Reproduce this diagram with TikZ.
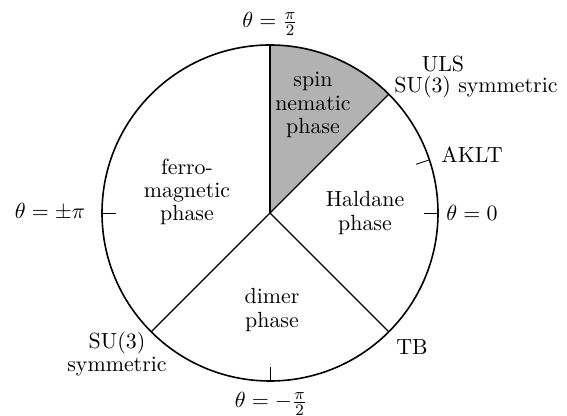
\documentclass[tikz,border=0pt]{standalone}
\usetikzlibrary{calc}
\begin{document}
\begin{tikzpicture}[x=0.5pt,y=-0.5pt,
  rim/.style={line width=0.8pt},
  spoke/.style={line width=0.55pt},
  tickmark/.style={line width=0.4pt},
  lbl/.style={align=center,inner sep=1pt,font=\fontsize{10.95}{11.6}\selectfont}]
\useasboundingbox (0,0) rectangle (567,416);
\coordinate (c) at (270,213);
\coordinate (p90) at ($(c)+(90:84pt)$);
\coordinate (p45) at ($(c)+(45:84pt)$);
\coordinate (m45) at ($(c)+(-45:84pt)$);
\coordinate (m135) at ($(c)+(-135:84pt)$);
\fill[black!30] (c) -- (p90) arc (90:45:84pt) -- cycle;
\draw[rim] (c) circle (84pt);
\draw[spoke] (c) -- (p90);
\draw[spoke] (c) -- (p45);
\draw[spoke] (c) -- (m45);
\draw[spoke] (c) -- (m135);
\foreach \a/\n in {0/t0,180/t180,-90/tm90,18.435/takl}{
  \coordinate (\n o) at ($(c)+(\a:84pt)$);
  \coordinate (\n i) at ($(c)+(\a:77pt)$);
  \draw[tickmark] (\n o) -- (\n i);
}
\node[lbl] (top) at (270,24) {$\theta=\frac{\pi}{2}$};
\node[lbl] (bot) at (271,404) {$\theta=-\frac{\pi}{2}$};
\node[lbl] (zero) at (472,213) {$\theta=0$};
\node[lbl] (pipm) at (50,212) {$\theta=\pm\pi$};
\node[lbl] (uls) at (443,64) {ULS};
\node[lbl] (su3a) at (476,87) {SU(3) symmetric};
\node[lbl] (aklt) at (472,155) {AKLT};
\node[lbl] (tb) at (412,347) {TB};
\node[lbl] (su3) at (117,354) {SU(3)\\symmetric};
\node[lbl] (nem) at (313,105) {spin\\nematic\\phase};
\node[lbl] (hal) at (365,213) {Haldane\\phase};
\node[lbl] (dim) at (272,310) {dimer\\phase};
\node[lbl] (fer) at (187,192) {ferro-\\magnetic\\phase};
\end{tikzpicture}
\end{document}
